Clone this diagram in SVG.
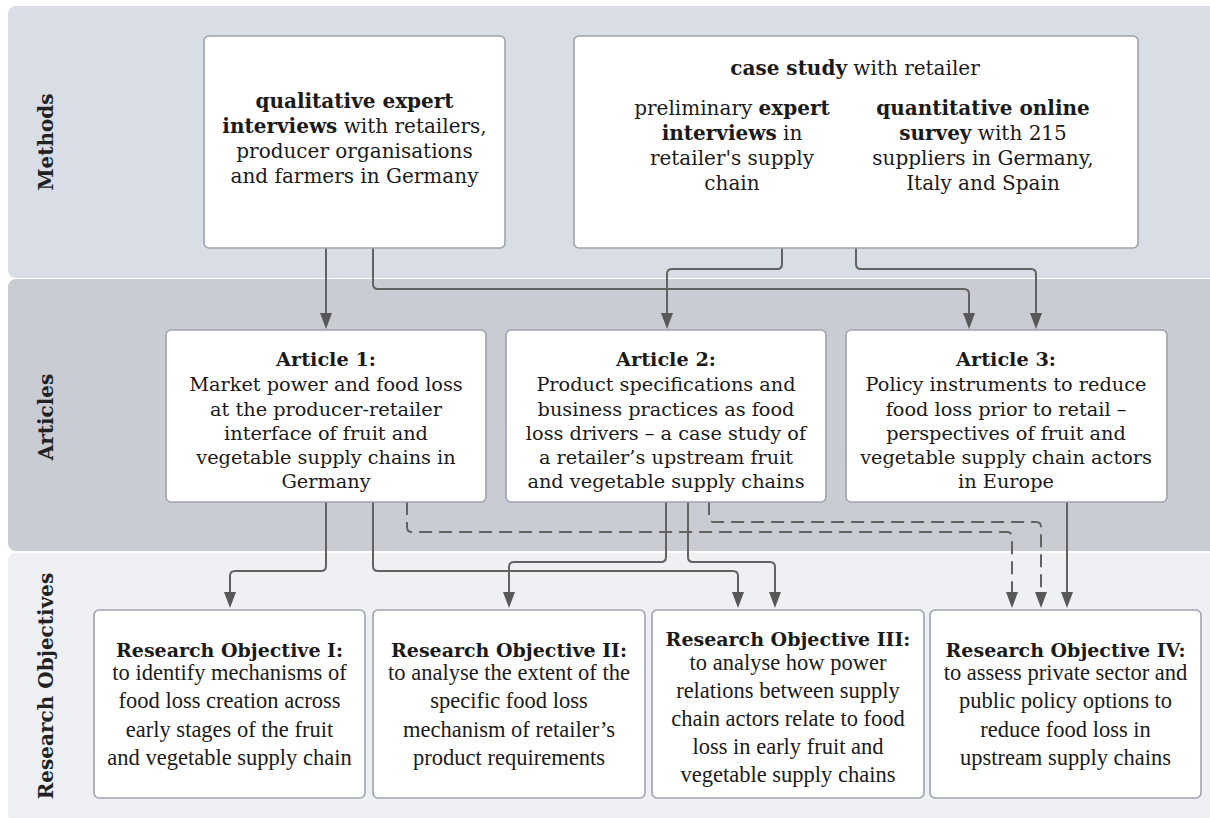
<svg xmlns="http://www.w3.org/2000/svg" width="1210" height="818" viewBox="0 0 1210 818">
<defs>
<style>
.band-m{fill:#d9dde5}
.band-a{fill:#caccd3}
.band-r{fill:#eef0f4}
.box{fill:#ffffff;stroke:#9ea3ab;stroke-width:1.6}
.lbl{font-family:"DejaVu Serif","Liberation Serif",serif;font-weight:bold;font-size:20px;fill:#222;text-anchor:middle}
.t{font-family:"DejaVu Serif","Liberation Serif",serif;font-size:19.3px;fill:#1a1a1a;text-anchor:middle}
.m{font-size:20px}
.b{font-weight:bold}
.rh{font-family:"DejaVu Serif","Liberation Serif",serif;font-weight:bold;font-size:19px;fill:#1a1a1a;text-anchor:middle}
.rb{font-family:"Liberation Serif","Times New Roman",serif;font-size:22.5px;fill:#1a1a1a;text-anchor:middle}
.c{fill:none;stroke:#626262;stroke-width:2}
.d{stroke-dasharray:13 7}
</style>
<marker id="arr" viewBox="0 0 16 12" refX="13" refY="6" markerWidth="16" markerHeight="12" markerUnits="userSpaceOnUse" orient="auto">
<path d="M0,0 L16,6 L0,12 z" fill="#585858"/>
</marker>
</defs>

<g id="bands">
<rect class="band-m" x="8" y="6" width="1212" height="272" rx="8"/>
<rect class="band-a" x="8" y="279" width="1212" height="272" rx="8"/>
<rect class="band-r" x="8" y="553" width="1212" height="270" rx="8"/>
<text class="lbl" transform="translate(53,142) rotate(-90)">Methods</text>
<text class="lbl" transform="translate(53,417) rotate(-90)">Articles</text>
<text class="lbl" transform="translate(53,686) rotate(-90)">Research Objectives</text>
</g>

<g id="connectors">
<path class="c" d="M326,248 V326" marker-end="url(#arr)"/>
<path class="c" d="M373,248 V284 Q373,289 378,289 H964 Q969,289 969,294 V326" marker-end="url(#arr)"/>
<path class="c" d="M782,248 V264 Q782,269 777,269 H672 Q667,269 667,274 V326" marker-end="url(#arr)"/>
<path class="c" d="M856,248 V264 Q856,269 861,269 H1031 Q1036,269 1036,274 V326" marker-end="url(#arr)"/>
<path class="c" d="M326,502 V566 Q326,571 321,571 H235 Q230,571 230,576 V605" marker-end="url(#arr)"/>
<path class="c" d="M373,502 V566 Q373,571 378,571 H733 Q738,571 738,576 V605" marker-end="url(#arr)"/>
<path class="c" d="M666,502 V557 Q666,562 661,562 H514 Q509,562 509,567 V605" marker-end="url(#arr)"/>
<path class="c" d="M688,502 V557 Q688,562 693,562 H770 Q775,562 775,567 V605" marker-end="url(#arr)"/>
<path class="c" d="M1067,502 V605" marker-end="url(#arr)"/>
<path class="c d" d="M407,502 V527 Q407,532 412,532 H1007 Q1012,532 1012,537 V605" marker-end="url(#arr)"/>
<path class="c d" d="M709,502 V517 Q709,522 714,522 H1036 Q1041,522 1041,527 V605" marker-end="url(#arr)"/>
</g>

<g id="method-1">
<rect class="box" x="204" y="36" width="301" height="212" rx="5"/>
<text class="t m" x="354.5" y="108"><tspan class="b">qualitative expert</tspan></text>
<text class="t m" x="354.5" y="133"><tspan class="b">interviews</tspan> with retailers,</text>
<text class="t m" x="354.5" y="158">producer organisations</text>
<text class="t m" x="354.5" y="183">and farmers in Germany</text>
</g>

<g id="method-2">
<rect class="box" x="574" y="36" width="564" height="212" rx="5"/>
<text class="t m" x="855" y="75"><tspan class="b">case study</tspan> with retailer</text>
<text class="t m" x="732" y="115">preliminary <tspan class="b">expert</tspan></text>
<text class="t m" x="732" y="140"><tspan class="b">interviews</tspan> in</text>
<text class="t m" x="732" y="165">retailer's supply</text>
<text class="t m" x="732" y="190">chain</text>
<text class="t m" x="983" y="115"><tspan class="b">quantitative online</tspan></text>
<text class="t m" x="983" y="140"><tspan class="b">survey</tspan> with 215</text>
<text class="t m" x="983" y="165">suppliers in Germany,</text>
<text class="t m" x="983" y="190">Italy and Spain</text>
</g>

<g id="article-1">
<rect class="box" x="166" y="330" width="320" height="172" rx="5"/>
<text class="t b" x="326" y="366">Article 1:</text>
<text class="t" x="326" y="391">Market power and food loss</text>
<text class="t" x="326" y="416">at the producer-retailer</text>
<text class="t" x="326" y="440">interface of fruit and</text>
<text class="t" x="326" y="464">vegetable supply chains in</text>
<text class="t" x="326" y="488">Germany</text>
</g>

<g id="article-2">
<rect class="box" x="506" y="330" width="320" height="172" rx="5"/>
<text class="t b" x="666" y="366">Article 2:</text>
<text class="t" x="666" y="391">Product specifications and</text>
<text class="t" x="666" y="416">business practices as food</text>
<text class="t" x="666" y="440">loss drivers – a case study of</text>
<text class="t" x="666" y="464">a retailer’s upstream fruit</text>
<text class="t" x="666" y="488">and vegetable supply chains</text>
</g>

<g id="article-3">
<rect class="box" x="846" y="330" width="321" height="172" rx="5"/>
<text class="t b" x="1006" y="366">Article 3:</text>
<text class="t" x="1006" y="391">Policy instruments to reduce</text>
<text class="t" x="1006" y="416">food loss prior to retail –</text>
<text class="t" x="1006" y="440">perspectives of fruit and</text>
<text class="t" x="1006" y="464">vegetable supply chain actors</text>
<text class="t" x="1006" y="488">in Europe</text>
</g>

<g id="objective-1">
<rect class="box" x="94" y="610" width="271" height="188" rx="5"/>
<text class="rh" x="229.5" y="657">Research Objective I:</text>
<text class="rb" x="229.5" y="680">to identify mechanisms of</text>
<text class="rb" x="229.5" y="708">food loss creation across</text>
<text class="rb" x="229.5" y="737">early stages of the fruit</text>
<text class="rb" x="229.5" y="765">and vegetable supply chain</text>
</g>

<g id="objective-2">
<rect class="box" x="373" y="610" width="272" height="188" rx="5"/>
<text class="rh" x="509" y="657">Research Objective II:</text>
<text class="rb" x="509" y="680">to analyse the extent of the</text>
<text class="rb" x="509" y="708">specific food loss</text>
<text class="rb" x="509" y="737">mechanism of retailer’s</text>
<text class="rb" x="509" y="765">product requirements</text>
</g>

<g id="objective-3">
<rect class="box" x="652" y="610" width="272" height="188" rx="5"/>
<text class="rh" x="788" y="646">Research Objective III:</text>
<text class="rb" x="788" y="670">to analyse how power</text>
<text class="rb" x="788" y="698">relations between supply</text>
<text class="rb" x="788" y="726">chain actors relate to food</text>
<text class="rb" x="788" y="754">loss in early fruit and</text>
<text class="rb" x="788" y="782">vegetable supply chains</text>
</g>

<g id="objective-4">
<rect class="box" x="930" y="610" width="271" height="188" rx="5"/>
<text class="rh" x="1065.5" y="657">Research Objective IV:</text>
<text class="rb" x="1065.5" y="680">to assess private sector and</text>
<text class="rb" x="1065.5" y="708">public policy options to</text>
<text class="rb" x="1065.5" y="737">reduce food loss in</text>
<text class="rb" x="1065.5" y="765">upstream supply chains</text>
</g>
</svg>
